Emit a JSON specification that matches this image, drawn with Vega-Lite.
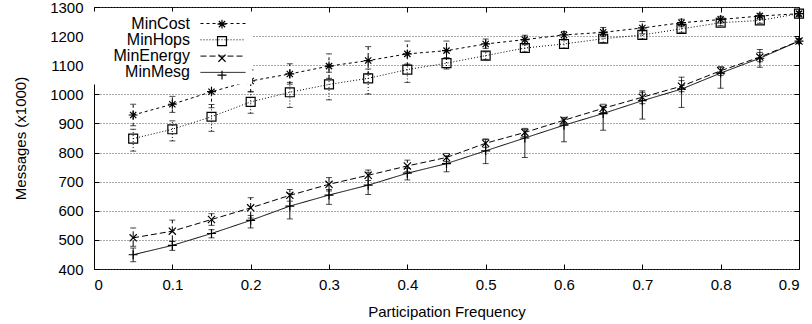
{
  "$schema": "https://vega.github.io/schema/vega-lite/v6.json",
  "width": 705,
  "height": 262,
  "autosize": {"type": "none"},
  "padding": {"left": 94, "top": 7, "right": 13, "bottom": 55},
  "background": "white",
  "config": {
    "view": {"stroke": "black", "strokeWidth": 1},
    "font": "Liberation Sans",
    "axis": {
      "labelFont": "Liberation Sans",
      "titleFont": "Liberation Sans",
      "labelFontSize": 15,
      "titleFontSize": 15,
      "labelColor": "black",
      "titleColor": "black",
      "titleFontWeight": "normal",
      "tickColor": "black",
      "tickWidth": 1,
      "domain": false,
      "grid": false
    },
    "legend": {"labelFont": "Liberation Sans"}
  },
  "data": {
    "values": [
      {"series": "MinCost", "f": 0.05, "v": 929, "lo": 892, "hi": 966},
      {"series": "MinCost", "f": 0.1, "v": 966, "lo": 938, "hi": 993},
      {"series": "MinCost", "f": 0.15, "v": 1009, "lo": 954, "hi": 1064},
      {"series": "MinCost", "f": 0.2, "v": 1046, "lo": 1008, "hi": 1084},
      {"series": "MinCost", "f": 0.25, "v": 1070, "lo": 1035, "hi": 1105},
      {"series": "MinCost", "f": 0.3, "v": 1097, "lo": 1055, "hi": 1139},
      {"series": "MinCost", "f": 0.35, "v": 1116, "lo": 1070, "hi": 1164},
      {"series": "MinCost", "f": 0.4, "v": 1139, "lo": 1100, "hi": 1183},
      {"series": "MinCost", "f": 0.45, "v": 1150, "lo": 1125, "hi": 1183},
      {"series": "MinCost", "f": 0.5, "v": 1173, "lo": 1158, "hi": 1190},
      {"series": "MinCost", "f": 0.55, "v": 1188, "lo": 1173, "hi": 1203},
      {"series": "MinCost", "f": 0.6, "v": 1204, "lo": 1190, "hi": 1216},
      {"series": "MinCost", "f": 0.65, "v": 1213, "lo": 1198, "hi": 1230},
      {"series": "MinCost", "f": 0.7, "v": 1228, "lo": 1208, "hi": 1250},
      {"series": "MinCost", "f": 0.75, "v": 1246, "lo": 1232, "hi": 1258},
      {"series": "MinCost", "f": 0.8, "v": 1257, "lo": 1245, "hi": 1268},
      {"series": "MinCost", "f": 0.85, "v": 1269, "lo": 1258, "hi": 1278},
      {"series": "MinCost", "f": 0.9, "v": 1277, "lo": 1268, "hi": 1285},
      {"series": "MinHops", "f": 0.05, "v": 848, "lo": 805, "hi": 880},
      {"series": "MinHops", "f": 0.1, "v": 880, "lo": 840, "hi": 909},
      {"series": "MinHops", "f": 0.15, "v": 923, "lo": 873, "hi": 965},
      {"series": "MinHops", "f": 0.2, "v": 974, "lo": 935, "hi": 1010},
      {"series": "MinHops", "f": 0.25, "v": 1007, "lo": 955, "hi": 1041},
      {"series": "MinHops", "f": 0.3, "v": 1034, "lo": 981, "hi": 1076},
      {"series": "MinHops", "f": 0.35, "v": 1055, "lo": 1001, "hi": 1087},
      {"series": "MinHops", "f": 0.4, "v": 1085, "lo": 1041, "hi": 1104},
      {"series": "MinHops", "f": 0.45, "v": 1107, "lo": 1087, "hi": 1125},
      {"series": "MinHops", "f": 0.5, "v": 1133, "lo": 1120, "hi": 1146},
      {"series": "MinHops", "f": 0.55, "v": 1159, "lo": 1146, "hi": 1170},
      {"series": "MinHops", "f": 0.6, "v": 1173, "lo": 1158, "hi": 1186},
      {"series": "MinHops", "f": 0.65, "v": 1191, "lo": 1178, "hi": 1203},
      {"series": "MinHops", "f": 0.7, "v": 1204, "lo": 1190, "hi": 1218},
      {"series": "MinHops", "f": 0.75, "v": 1225, "lo": 1213, "hi": 1236},
      {"series": "MinHops", "f": 0.8, "v": 1246, "lo": 1236, "hi": 1256},
      {"series": "MinHops", "f": 0.85, "v": 1254, "lo": 1244, "hi": 1264},
      {"series": "MinHops", "f": 0.9, "v": 1277, "lo": 1269, "hi": 1285},
      {"series": "MinEnergy", "f": 0.05, "v": 507, "lo": 478, "hi": 541},
      {"series": "MinEnergy", "f": 0.1, "v": 530, "lo": 495, "hi": 568},
      {"series": "MinEnergy", "f": 0.15, "v": 570, "lo": 550, "hi": 590},
      {"series": "MinEnergy", "f": 0.2, "v": 610, "lo": 575, "hi": 645},
      {"series": "MinEnergy", "f": 0.25, "v": 653, "lo": 633, "hi": 673},
      {"series": "MinEnergy", "f": 0.3, "v": 691, "lo": 668, "hi": 714},
      {"series": "MinEnergy", "f": 0.35, "v": 722, "lo": 704, "hi": 740},
      {"series": "MinEnergy", "f": 0.4, "v": 754, "lo": 734, "hi": 774},
      {"series": "MinEnergy", "f": 0.45, "v": 783, "lo": 769, "hi": 797},
      {"series": "MinEnergy", "f": 0.5, "v": 832, "lo": 818, "hi": 846},
      {"series": "MinEnergy", "f": 0.55, "v": 869, "lo": 855, "hi": 883},
      {"series": "MinEnergy", "f": 0.6, "v": 911, "lo": 901, "hi": 921},
      {"series": "MinEnergy", "f": 0.65, "v": 952, "lo": 938, "hi": 966},
      {"series": "MinEnergy", "f": 0.7, "v": 990, "lo": 968, "hi": 1012},
      {"series": "MinEnergy", "f": 0.75, "v": 1028, "lo": 1009, "hi": 1047},
      {"series": "MinEnergy", "f": 0.8, "v": 1081, "lo": 1065, "hi": 1095},
      {"series": "MinEnergy", "f": 0.85, "v": 1128, "lo": 1112, "hi": 1144},
      {"series": "MinEnergy", "f": 0.9, "v": 1183, "lo": 1175, "hi": 1191},
      {"series": "MinMesg", "f": 0.05, "v": 449, "lo": 425, "hi": 472},
      {"series": "MinMesg", "f": 0.1, "v": 481, "lo": 464, "hi": 495},
      {"series": "MinMesg", "f": 0.15, "v": 522, "lo": 507, "hi": 535},
      {"series": "MinMesg", "f": 0.2, "v": 567, "lo": 541, "hi": 584},
      {"series": "MinMesg", "f": 0.25, "v": 616, "lo": 572, "hi": 660},
      {"series": "MinMesg", "f": 0.3, "v": 654, "lo": 622, "hi": 673},
      {"series": "MinMesg", "f": 0.35, "v": 688, "lo": 656, "hi": 732},
      {"series": "MinMesg", "f": 0.4, "v": 729, "lo": 706, "hi": 745},
      {"series": "MinMesg", "f": 0.45, "v": 762, "lo": 734, "hi": 788},
      {"series": "MinMesg", "f": 0.5, "v": 806, "lo": 762, "hi": 846},
      {"series": "MinMesg", "f": 0.55, "v": 850, "lo": 783, "hi": 880},
      {"series": "MinMesg", "f": 0.6, "v": 894, "lo": 837, "hi": 915},
      {"series": "MinMesg", "f": 0.65, "v": 934, "lo": 877, "hi": 959},
      {"series": "MinMesg", "f": 0.7, "v": 978, "lo": 915, "hi": 1007},
      {"series": "MinMesg", "f": 0.75, "v": 1018, "lo": 955, "hi": 1059},
      {"series": "MinMesg", "f": 0.8, "v": 1073, "lo": 1021, "hi": 1093},
      {"series": "MinMesg", "f": 0.85, "v": 1124, "lo": 1093, "hi": 1154},
      {"series": "MinMesg", "f": 0.9, "v": 1183, "lo": 1175, "hi": 1191}
    ]
  },
  "layer": [
    {
      "mark": {"type": "point", "opacity": 0},
      "encoding": {
        "x": {"field": "f", "type": "quantitative",
              "scale": {"domain": [0, 0.9], "nice": false, "zero": false},
              "axis": {"orient": "top", "values": [0.1, 0.2, 0.3, 0.4, 0.5, 0.6, 0.7, 0.8], "labels": false, "title": null, "tickSize": -5, "grid": false}},
        "y": {"field": "v", "type": "quantitative",
              "scale": {"domain": [400, 1300], "nice": false, "zero": false},
              "axis": {"orient": "right", "values": [500, 600, 700, 800, 900, 1000, 1100, 1200], "labels": false, "title": null, "tickSize": -5, "grid": false}}
      }
    },
    {
      "mark": {"type": "line", "color": "black", "strokeWidth": 1},
      "encoding": {
        "x": {"field": "f", "type": "quantitative",
              "scale": {"domain": [0, 0.9], "nice": false, "zero": false},
              "axis": {"values": [0, 0.1, 0.2, 0.3, 0.4, 0.5, 0.6, 0.7, 0.8, 0.9], "format": ".1~f", "tickSize": -5, "labelPadding": 13, "title": "Participation Frequency", "titleY": 42, "titleBaseline": "middle", "grid": false}},
        "y": {"field": "v", "type": "quantitative",
              "scale": {"domain": [400, 1300], "nice": false, "zero": false},
              "axis": {"values": [400, 500, 600, 700, 800, 900, 1000, 1100, 1200, 1300], "format": "d", "tickSize": -5, "labelPadding": 16, "grid": true, "gridColor": "#555555", "gridDash": [1, 2], "gridWidth": 1, "title": "Messages (x1000)", "titleX": -74, "titleBaseline": "middle"}},
        "strokeDash": {"field": "series", "type": "nominal",
                       "scale": {"domain": ["MinCost", "MinHops", "MinEnergy", "MinMesg"], "range": [[3, 3], [1, 2], [6, 3], [1, 0]]},
                       "legend": {"orient": "none", "legendX": 0, "legendY": 4.5, "padding": 4, "title": null,
                                  "symbolType": "M-5,0L5,0", "symbolSize": 81, "symbolStrokeWidth": 1, "symbolStrokeColor": "black",
                                  "rowPadding": 0.3, "labelAlign": "right", "labelFontSize": 16, "labelColor": "black",
                                  "symbolOffset": 117, "labelOffset": -41, "labelLimit": 200, "fillColor": "white", "zindex": 1}}
      }
    },
    {
      "mark": {"type": "rule", "color": "black", "strokeWidth": 1},
      "encoding": {
        "x": {"field": "f", "type": "quantitative", "axis": null},
        "y": {"field": "lo", "type": "quantitative", "axis": null},
        "y2": {"field": "hi"},
        "strokeDash": {"field": "series", "type": "nominal", "legend": null}
      }
    },
    {
      "mark": {"type": "tick", "orient": "horizontal", "size": 6, "thickness": 1, "color": "black"},
      "encoding": {
        "x": {"field": "f", "type": "quantitative", "axis": null},
        "y": {"field": "lo", "type": "quantitative", "axis": null}
      }
    },
    {
      "mark": {"type": "tick", "orient": "horizontal", "size": 6, "thickness": 1, "color": "black"},
      "encoding": {
        "x": {"field": "f", "type": "quantitative", "axis": null},
        "y": {"field": "hi", "type": "quantitative", "axis": null}
      }
    },
    {
      "mark": {"type": "point", "filled": false, "color": "black", "strokeWidth": 1.2, "size": 80, "opacity": 1},
      "encoding": {
        "x": {"field": "f", "type": "quantitative", "axis": null},
        "y": {"field": "v", "type": "quantitative", "axis": null},
        "shape": {"field": "series", "type": "nominal",
                  "scale": {"domain": ["MinCost", "MinHops", "MinEnergy", "MinMesg"],
                            "range": ["M-1,0L1,0M0,-1L0,1M-0.7,-0.7L0.7,0.7M-0.7,0.7L0.7,-0.7", "square", "M-0.8,-0.8L0.8,0.8M-0.8,0.8L0.8,-0.8", "M-1,0L1,0M0,-1L0,1"]},
                  "legend": {"orient": "top-left", "offset": 8.85, "padding": 0, "title": null,
                             "symbolSize": 80, "symbolStrokeWidth": 1.2, "symbolStrokeColor": "black", "symbolFillColor": "transparent",
                             "clipHeight": 16.3, "rowPadding": 0, "symbolOffset": 113.5, "labelExpr": "''", "zindex": 2}}
      }
    }
  ],
  "resolve": {"axis": {"x": "independent", "y": "independent"}}
}
